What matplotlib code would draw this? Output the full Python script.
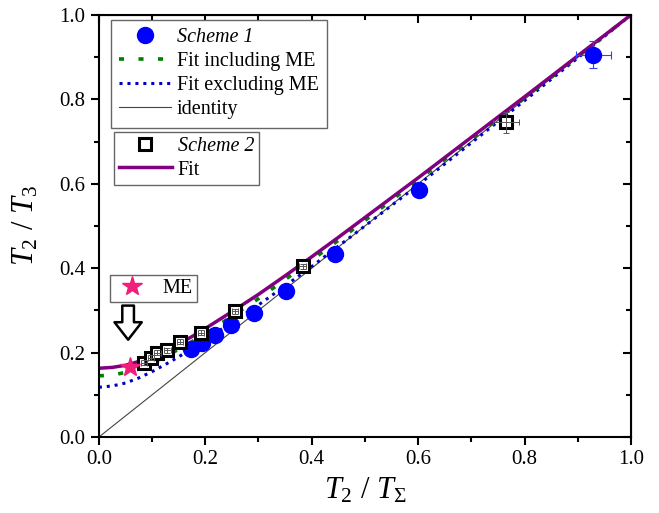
import numpy as np
import matplotlib
matplotlib.use("Agg")
from matplotlib import pyplot as plt

plt.rcParams['font.family'] = 'Liberation Serif'
plt.rcParams['mathtext.fontset'] = 'custom'
plt.rcParams['mathtext.rm'] = 'Liberation Serif'
plt.rcParams['mathtext.it'] = 'Liberation Serif:italic'

# Scheme 1 (blue circles)
s1_x = [0.174, 0.193, 0.218, 0.249, 0.291, 0.351, 0.444, 0.602, 0.929]
s1_y = [0.208, 0.222, 0.241, 0.265, 0.295, 0.346, 0.434, 0.585, 0.905]
s1_xerr = [0.008, 0.008, 0.008, 0.008, 0.008, 0.010, 0.010, 0.012, 0.033]
s1_yerr = [0.008, 0.008, 0.008, 0.008, 0.008, 0.010, 0.010, 0.012, 0.032]

# Scheme 2 (open squares)
s2_x = [0.085, 0.098, 0.110, 0.129, 0.152, 0.192, 0.256, 0.383, 0.765]
s2_y = [0.176, 0.188, 0.200, 0.206, 0.226, 0.247, 0.298, 0.405, 0.746]
s2_xerr = [0.006, 0.006, 0.006, 0.006, 0.006, 0.006, 0.006, 0.006, 0.025]
s2_yerr = [0.006, 0.006, 0.006, 0.006, 0.006, 0.006, 0.006, 0.006, 0.025]

# ME point
me_x = [0.058]
me_y = [0.165]

# fit curves
fit_x = [0.0, 0.025, 0.05, 0.075, 0.1, 0.125, 0.15, 0.175, 0.2, 0.25, 0.3, 0.35,
         0.4, 0.45, 0.5, 0.6, 0.7, 0.8, 0.9, 1.0]
fit_incl = [0.145, 0.147, 0.153, 0.163, 0.176, 0.191, 0.208, 0.226, 0.245, 0.286, 0.328, 0.373,
            0.419, 0.466, 0.513, 0.609, 0.706, 0.803, 0.901, 1.0]
fit_excl = [0.118, 0.121, 0.128, 0.140, 0.155, 0.172, 0.190, 0.210, 0.230, 0.272, 0.313, 0.358,
            0.404, 0.452, 0.500, 0.597, 0.697, 0.797, 0.898, 1.0]
fit_s2 = [0.163, 0.165, 0.170, 0.179, 0.191, 0.205, 0.221, 0.238, 0.257, 0.297, 0.338, 0.382,
          0.427, 0.473, 0.520, 0.614, 0.710, 0.806, 0.903, 1.0]
ident = [0.0, 1.0]

fig = plt.figure(figsize=(6.59, 5.13), dpi=100)
ax = fig.add_axes([0.150, 0.148, 0.8075, 0.823])

l_id, = ax.plot(ident, ident, color="#444444", lw=0.8, label="identity", zorder=1)
l_ex, = ax.plot(fit_x, fit_excl, color="#0000C0", lw=2.2, ls=(0, (1, 1.6)), label="Fit excluding ME", zorder=2)
l_in, = ax.plot(fit_x, fit_incl, color="#008000", lw=2.6, ls=(0, (1.4, 4)), label="Fit including ME", zorder=2)
l_s2, = ax.plot(fit_x, fit_s2, color="#800080", lw=2.5, label="Fit", zorder=2)

ax.errorbar(s1_x, s1_y, xerr=s1_xerr, yerr=s1_yerr, ls="None", color="#3040FF",
            capsize=3, elinewidth=0.8, capthick=0.8, zorder=3)
p_s1, = ax.plot(s1_x, s1_y, "o", ls="None", color="#0000FF", markersize=11.5, label="Scheme 1", zorder=4)

p_s2, = ax.plot(s2_x, s2_y, "s", ls="None", mfc="white", mec="black", mew=2.2, markersize=9,
                label="Scheme 2", zorder=5)
ax.errorbar(s2_x, s2_y, xerr=s2_xerr, yerr=s2_yerr, ls="None", color="#555555",
            capsize=2, elinewidth=0.7, capthick=0.7, zorder=6)

p_me, = ax.plot(me_x, me_y, "*", ls="None", color="#F0207A", markersize=15, label="ME", zorder=7)

ax.annotate("", xy=(0.055, 0.224), xytext=(0.055, 0.318),
            arrowprops=dict(arrowstyle="simple,head_length=0.9,head_width=1.4,tail_width=0.6",
                            fc="white", ec="black", lw=1.8, mutation_scale=14))

ax.set_xlim(0, 1)
ax.set_ylim(0, 1)
ax.set_xticks(np.arange(0, 1.01, 0.2))
ax.set_yticks(np.arange(0, 1.01, 0.2))
ax.set_xticks(np.arange(0.1, 1.0, 0.2), minor=True)
ax.set_yticks(np.arange(0.1, 1.0, 0.2), minor=True)
ax.tick_params(which="major", direction="out", length=6, width=1.5, labelsize=15)
ax.tick_params(which="minor", direction="out", length=3.5, width=1.5)
for s in ax.spines.values():
    s.set_linewidth(1.5)

# mirrored ticks on top and right, pointing inward
top = ax.secondary_xaxis("top")
top.set_xticks(np.arange(0, 1.01, 0.2))
top.set_xticks(np.arange(0.1, 1.0, 0.2), minor=True)
top.tick_params(which="both", direction="in", width=1.5, labeltop=False)
top.tick_params(which="major", length=6)
top.tick_params(which="minor", length=3.5)
right = ax.secondary_yaxis("right")
right.set_yticks(np.arange(0, 1.01, 0.2))
right.set_yticks(np.arange(0.1, 1.0, 0.2), minor=True)
right.tick_params(which="both", direction="in", width=1.5, labelright=False)
right.tick_params(which="major", length=6)
right.tick_params(which="minor", length=3.5)

ax.set_xlabel(r"$T_{\rm 2}$ / $T_{\rm \Sigma}$", fontsize=22, labelpad=5)
ax.set_ylabel(r"$T_{\rm 2}$ / $T_{\rm 3}$", fontsize=22, labelpad=14)

leg_kw = dict(fontsize=14.5, frameon=True, fancybox=False, framealpha=1, edgecolor="#666666",
              handlelength=2.6, handletextpad=0.3, borderaxespad=0, labelspacing=0.25,
              borderpad=0.4)
leg1 = ax.legend([p_s1, l_in, l_ex, l_id], ["Scheme 1", "Fit including ME", "Fit excluding ME", "identity"],
                 loc="upper left", bbox_to_anchor=(0.022, 0.988), **leg_kw)
leg1.get_texts()[0].set_fontstyle("italic")
leg1.get_frame().set_linewidth(1.0)
ax.add_artist(leg1)

leg2 = ax.legend([p_s2, l_s2], ["Scheme 2", "Fit"], loc="upper left",
                 bbox_to_anchor=(0.029, 0.722), **dict(leg_kw, borderpad=0.25, labelspacing=0.2))
leg2.get_texts()[0].set_fontstyle("italic")
leg2.get_frame().set_linewidth(1.0)
ax.add_artist(leg2)

leg3 = ax.legend([p_me], ["ME"], loc="upper left", bbox_to_anchor=(0.021, 0.384),
                 **dict(leg_kw, handlelength=1.8, handletextpad=0.6, borderpad=0.2))
leg3.get_frame().set_linewidth(1.0)

plt.savefig("out.png", dpi=100)
